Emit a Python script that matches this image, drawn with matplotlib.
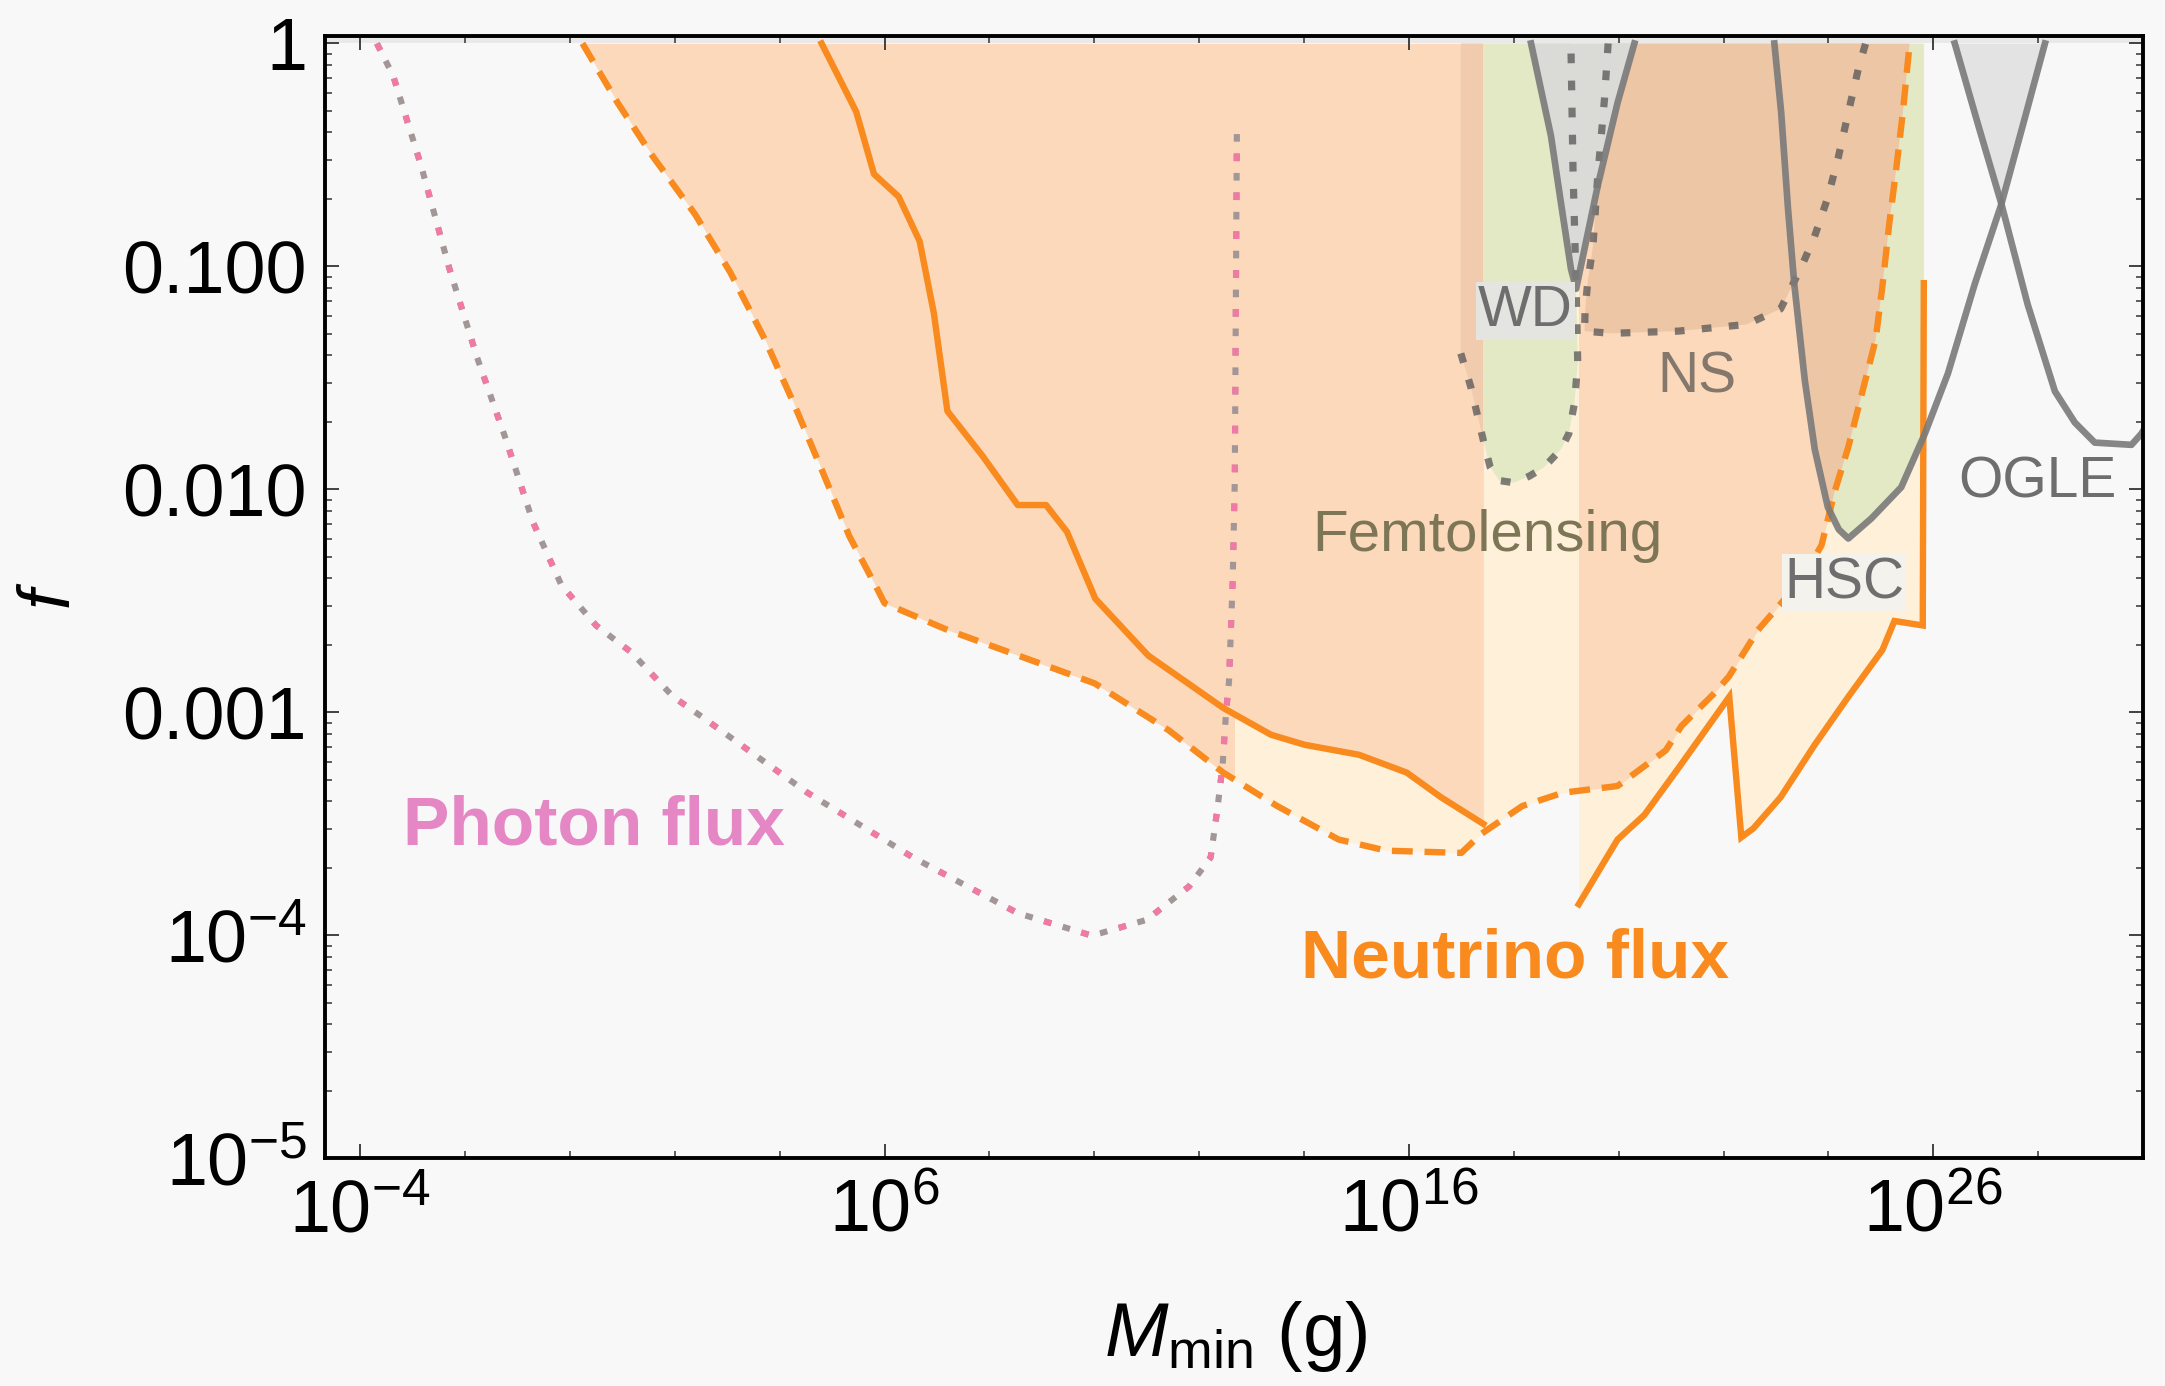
import numpy as np
import matplotlib
matplotlib.use('Agg')
import matplotlib.pyplot as plt
from matplotlib.patches import Polygon, Rectangle
from matplotlib.ticker import FixedLocator, FixedFormatter, NullFormatter

plt.rcParams['font.family'] = ['Liberation Sans', 'DejaVu Sans']
plt.rcParams['mathtext.fontset'] = 'custom'
plt.rcParams['mathtext.rm'] = 'Liberation Sans'
plt.rcParams['mathtext.it'] = 'Liberation Sans:italic'
plt.rcParams['lines.scale_dashes'] = False

# ---------------- data (log10 M [g], log10 f) ----------------
photon_logM = [-3.68, -3.37, -2.84, -2.30, -1.77, -1.23, -0.70, -0.16, 0.50, 1.17, 1.97, 2.52,
               4.53, 6.54, 8.54, 9.94, 10.12, 11.0, 11.81, 12.22, 12.35, 12.45, 12.51, 12.57,
               12.64, 12.68, 12.72]
photon_logf = [0.0, -0.145, -0.546, -1.008, -1.408, -1.769, -2.149, -2.43, -2.61, -2.73, -2.93, -3.02,
               -3.36, -3.65, -3.90, -4.0, -3.99, -3.93, -3.78, -3.65, -3.43, -3.23, -3.01, -2.86,
               -2.41, -1.96, -0.40]

dash_logM = [0.24, 0.91, 1.58, 2.39, 3.06, 3.72, 4.26, 4.80, 5.33, 5.87, 6.0, 6.40, 7.20, 8.14,
             9.08, 10.01, 11.42, 12.46, 13.49, 14.66, 15.57, 17.0, 17.38, 18.16, 18.94, 19.98,
             20.9, 21.2, 21.8, 22.1, 22.66, 23.1, 23.5, 23.87, 24.12, 24.38, 24.64, 24.90, 25.03,
             25.16, 25.29, 25.42, 25.55]
dash_logf = [0.0, -0.266, -0.506, -0.767, -1.027, -1.328, -1.609, -1.910, -2.21, -2.45, -2.51, -2.55,
             -2.63, -2.71, -2.79, -2.87, -3.08, -3.27, -3.42, -3.57, -3.62, -3.63, -3.545, -3.42,
             -3.36, -3.33, -3.17, -3.06, -2.92, -2.84, -2.63, -2.51, -2.40, -2.25, -2.01, -1.81,
             -1.57, -1.33, -1.09, -0.81, -0.57, -0.31, 0.0]

solidL_logM = [4.80, 5.20, 5.46, 5.80, 6.27, 6.67, 6.94, 7.20, 7.87, 8.54, 9.08, 9.48, 10.02,
               11.03, 12.46, 13.37, 14.01, 15.05, 15.96, 16.61, 17.42]
solidL_logf = [0.0, -0.185, -0.306, -0.586, -0.687, -0.887, -1.208, -1.649, -1.850, -2.07, -2.07,
               -2.19, -2.49, -2.745, -2.98, -3.10, -3.145, -3.19, -3.27, -3.38, -3.50]

solidR_logM = [19.24, 19.98, 20.49, 21.14, 22.11, 22.34, 22.57, 23.09, 23.74, 24.38, 25.03,
               25.26, 25.80, 25.82]
solidR_logf = [-3.86, -3.57, -3.46, -3.25, -2.93, -3.56, -3.52, -3.38, -3.145, -2.93, -2.72,
               -2.59, -2.61, -1.075]

femto_logM = [16.99, 17.18, 17.31, 17.44, 17.55, 17.72, 18.0, 18.3, 18.58, 18.9, 19.05, 19.16,
              19.22, 19.19, 19.13, 19.09]
femto_logf = [-1.39, -1.54, -1.67, -1.80, -1.90, -1.96, -1.97, -1.94, -1.90, -1.82, -1.75, -1.61,
              -1.43, -1.10, -0.565, 0.0]

ns_logM = [19.80, 19.73, 19.60, 19.51, 19.41, 19.36, 19.35, 19.85, 21.14, 22.44, 23.09, 23.47,
           23.73, 23.99, 24.19, 24.38, 24.58, 24.71]
ns_logf = [0.0, -0.25, -0.60, -0.91, -1.07, -1.20, -1.29, -1.30, -1.29, -1.26, -1.19, -1.01,
           -0.87, -0.69, -0.51, -0.31, -0.105, 0.0]

wd_logM = [18.33, 18.71, 18.90, 19.09, 19.19, 19.60, 19.98, 20.30]
wd_logf = [0.0, -0.415, -0.715, -1.01, -1.10, -0.64, -0.266, 0.0]

hsc_logM = [22.97, 23.10, 23.23, 23.35, 23.55, 23.74, 23.99, 24.20, 24.38, 24.82, 25.39, 25.84,
            26.28, 26.79, 27.30, 27.74, 28.13]
hsc_logf = [0.0, -0.31, -0.74, -1.08, -1.51, -1.82, -2.08, -2.18, -2.22, -2.13, -1.99, -1.75,
            -1.48, -1.08, -0.72, -0.34, 0.0]

ogle_logM = [26.41, 26.85, 27.30, 27.80, 28.32, 28.70, 29.08, 29.78, 29.97, 30.1]
ogle_logf = [0.0, -0.36, -0.72, -1.17, -1.56, -1.70, -1.79, -1.80, -1.75, -1.70]

labels = {
    'Photon flux': (0.46, -3.51),
    'Neutrino flux': (18.03, -4.11),
    'Femtolensing': (17.5, -2.21),
    'WD': (18.22, -1.20),
    'NS': (21.50, -1.50),
    'HSC': (24.30, -2.42),
    'OGLE': (27.98, -1.97),
}

x_major = [-4, 6, 16, 26]
y_major = [-5, -4, -3, -2, -1, 0]
y_labels = [r'$10^{-5}$', r'$10^{-4}$', '0.001', '0.010', '0.100', '1']

# ---------------- style ----------------
BG = '#f8f8f8'
PEACH = '#fdd9bc'
CREAM = '#fff0d9'
GREEN = '#e4e9c5'
FEMTO_PEACH = '#f1cbad'
BROWN = '#edc6a6'
GREY_FILL = '#e3e3e3'
WD_FILL = '#dadad6'
ORANGE = '#f88a1e'
GREY_LINE = '#7a7a7a'
PINK = '#f07aa5'
PGREY = '#a39696'
TOP = 1.0
LW_OR = 4.6


def pw(a):
    return 10.0 ** np.asarray(a, dtype=float)


fig = plt.figure(figsize=(21.65, 13.86), dpi=100, facecolor=BG)
ax = fig.add_axes([325 / 2165, 1 - 1158.4 / 1386, (2143 - 325) / 2165, (1158.4 - 36) / 1386])
ax.set_facecolor(BG)
ax.set_xscale('log')
ax.set_yscale('log')
ax.set_xlim(10 ** -4.67, 1e30)
ax.set_ylim(1e-5, 1.08)


def vband(x0, x1):
    return Rectangle((10.0 ** x0, 1e-8), 10.0 ** x1 - 10.0 ** x0, 1e9, transform=ax.transData)


def region(xs, ys, extra=()):
    pts = list(zip(pw(xs), pw(ys))) + [(10.0 ** a, 10.0 ** b) for a, b in extra]
    return Polygon(pts, closed=True, transform=ax.transData)


ax.axhspan(1.0, 1.08, color='#e9e9e9', lw=0, zorder=0.5)

# cream (lighter) regions
c1 = ax.fill_between(pw(dash_logM), pw(dash_logf), TOP, color=CREAM, lw=0, zorder=1)
c1.set_clip_path(vband(12.66, 26.5))
ax.fill_between(pw(solidR_logM), pw(solidR_logf), TOP, color=CREAM, lw=0, zorder=1)

# peach regions
p1 = ax.fill_between(pw(dash_logM), pw(dash_logf), TOP, color=PEACH, lw=0, zorder=1.1)
p1.set_clip_path(vband(-5, 12.66))
p2 = ax.fill_between(pw(solidL_logM), pw(solidL_logf), TOP, color=PEACH, lw=0, zorder=1.1)
p2.set_clip_path(vband(12.66, 17.42))
p3 = ax.fill_between(pw(dash_logM), pw(dash_logf), TOP, color=PEACH, lw=0, zorder=1.1)
p3.set_clip_path(vband(19.24, 26.5))

# femtolensing region
fx = list(femto_logM) + [femto_logM[0]]
fy = list(femto_logf) + [0.0]
f1, = ax.fill(pw(fx), pw(fy), color=FEMTO_PEACH, lw=0, zorder=1.2)
f1.set_clip_path(vband(-5, 17.42))
f2, = ax.fill(pw(fx), pw(fy), color=GREEN, lw=0, zorder=1.2)
f2.set_clip_path(vband(17.42, 19.3))

# NS region
ax.fill(pw(ns_logM), pw(ns_logf), color=BROWN, lw=0, zorder=1.2)

# HSC region (shows through where it overlaps other regions)
h1, = ax.fill(pw(hsc_logM), pw(hsc_logf), color=GREEN, lw=0, zorder=1.3)
h1.set_clip_path(region(solidR_logM, solidR_logf, [(25.82, 0.0), (19.24, 0.0)]))
h2, = ax.fill(pw(hsc_logM), pw(hsc_logf), color=BROWN, lw=0, zorder=1.35)
h2.set_clip_path(region(dash_logM, dash_logf))
h3, = ax.fill(pw(hsc_logM), pw(hsc_logf), color=GREY_FILL, lw=0, zorder=1.3)
h3.set_clip_path(region(ogle_logM, ogle_logf, [(30.5, -1.70), (30.5, 0.0)]))

# WD region
ax.fill(pw(wd_logM), pw(wd_logf), color=WD_FILL, lw=0, zorder=1.4)

# ---------------- lines ----------------
ax.plot(pw(photon_logM), pw(photon_logf), color=PGREY, lw=4.4, dashes=(5.5, 8.5),
        dash_capstyle='butt', zorder=3)
ax.plot(pw(photon_logM), pw(photon_logf), color=PINK, lw=4.4, dashes=(5.5, 22.5),
        dash_capstyle='butt', zorder=3.1)

ax.plot(pw(dash_logM), pw(dash_logf), color=ORANGE, lw=LW_OR, dashes=(15, 8.5), zorder=3.3)
ax.plot(pw(solidL_logM), pw(solidL_logf), color=ORANGE, lw=LW_OR, zorder=3.3,
        solid_joinstyle='round')
ax.plot(pw(solidR_logM), pw(solidR_logf), color=ORANGE, lw=LW_OR, zorder=3.3,
        solid_joinstyle='miter')

for xs, ys in [(femto_logM, femto_logf), (ns_logM, ns_logf)]:
    ax.plot(pw(xs), pw(ys), color='#555555', alpha=0.75, lw=5.2, dashes=(7, 12.5),
            dash_capstyle='butt', zorder=3.4)

for xs, ys in [(wd_logM, wd_logf), (hsc_logM, hsc_logf), (ogle_logM, ogle_logf)]:
    ax.plot(pw(xs), pw(ys), color=GREY_LINE, alpha=0.9, lw=4.8, zorder=3.5)

# ---------------- labels ----------------
label_style = {
    'Photon flux': dict(color='#e487c4', fontsize=50, fontweight='bold'),
    'Neutrino flux': dict(color=ORANGE, fontsize=50, fontweight='bold'),
    'Femtolensing': dict(color='#7d7656', fontsize=42),
    'WD': dict(color='#6e6e6e', fontsize=41,
               bbox=dict(facecolor='#e4e4e0', edgecolor='none', pad=1.5)),
    'NS': dict(color='#84776b', fontsize=41),
    'HSC': dict(color='#6e6e6e', fontsize=41,
                bbox=dict(facecolor='#f3f2ec', edgecolor='none', pad=1.5)),
    'OGLE': dict(color='#6e6e6e', fontsize=41),
}
for name, (lx, ly) in labels.items():
    ax.text(10.0 ** lx, 10.0 ** ly, name, ha='center', va='center', zorder=6,
            **label_style[name])

# ---------------- axes ----------------
ax.xaxis.set_major_locator(FixedLocator(pw(x_major)))
ax.xaxis.set_major_formatter(FixedFormatter([r'$10^{%d}$' % k for k in x_major]))
ax.xaxis.set_minor_locator(FixedLocator(pw([k for k in range(-4, 31, 2) if k not in x_major])))
ax.xaxis.set_minor_formatter(NullFormatter())

ax.yaxis.set_major_locator(FixedLocator(pw(y_major)))
ax.yaxis.set_major_formatter(FixedFormatter(y_labels))
ym = [m * 10.0 ** k for k in range(-5, 0) for m in range(2, 10)]
ax.yaxis.set_minor_locator(FixedLocator(ym))
ax.yaxis.set_minor_formatter(NullFormatter())

ax.tick_params(which='both', direction='in', top=True, right=True, colors='#333333',
               labelcolor='black', labelsize=53)
ax.tick_params(which='major', length=10, width=1.3)
ax.tick_params(which='minor', length=5, width=1.1)
ax.tick_params(axis='y', pad=13)
ax.tick_params(axis='x', pad=14)

for s in ax.spines.values():
    s.set_linewidth(2.8)
    s.set_color('black')
    s.set_zorder(7)

fig.text(1236 / 2165, 1 - 1337 / 1386, r'$\mathit{M}_{\mathrm{min}}$ (g)', fontsize=55,
         ha='center', va='center')
fig.text(52 / 2165, 1 - 596 / 1386, r'$\mathit{f}$', fontsize=52, rotation=90,
         ha='center', va='center')

fig.savefig('out.png', dpi=100, facecolor=BG)
